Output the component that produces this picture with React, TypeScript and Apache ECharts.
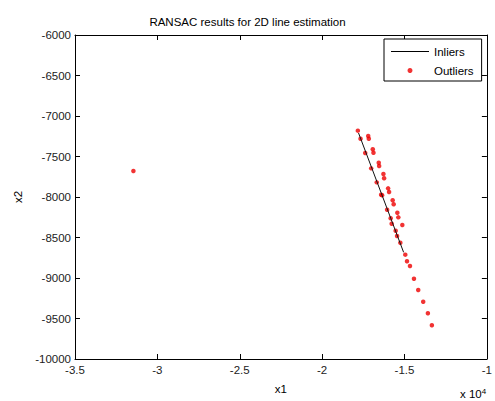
import React, { useEffect, useRef } from "react";
import * as echarts from "echarts";

const titleText = "RANSAC results for 2D line estimation";
const xTickValues = [-35000, -30000, -25000, -20000, -15000, -10000];
const yTickValues = [-10000, -9500, -9000, -8500, -8000, -7500, -7000, -6500, -6000];

// Inlier fitted line (two end points)
const inlierX = [-17790, -15054];
const inlierY = [-7210, -8683];

// Outlier points
const outlierX = [
  -17832, -17669, -17204, -17168, -17385, -16926, -16884, -16564, -16540, -17023,
  -16280, -16238, -16685, -15996, -15936, -16420, -16360, -15718, -15658, -16057,
  -15435, -15375, -15840, -15779, -15133, -15537, -15453, -15254, -14952, -14849,
  -14668, -14426, -14167, -13865, -13581, -13339, -31455,
];
const outlierY = [
  -7181, -7280, -7247, -7280, -7457, -7411, -7453, -7577, -7617, -7646,
  -7716, -7769, -7819, -7893, -7938, -7972, -7979, -8041, -8090, -8157,
  -8194, -8251, -8263, -8330, -8346, -8416, -8481, -8564, -8712, -8794,
  -8852, -9009, -9148, -9293, -9436, -9584, -7679,
];

const FONT = "'Liberation Sans', Arial, sans-serif";
const RED = "#ee0000";

export default function App() {
  const ref = useRef<HTMLDivElement>(null);
  useEffect(() => {
    if (!ref.current) return;
    const chart = echarts.init(ref.current, undefined, { renderer: "svg" });
    const axisCommon = {
      type: "value" as const,
      splitLine: { show: false },
      axisLine: { show: true, onZero: false, lineStyle: { color: "#000", width: 1 } },
      axisTick: { show: true, inside: true, length: 5, lineStyle: { color: "#000" } },
    };
    chart.setOption({
      animation: false,
      backgroundColor: "#fff",
      textStyle: { fontFamily: FONT },
      title: {
        text: titleText,
        left: "center",
        top: 11,
        textStyle: { fontFamily: FONT, fontSize: 11.5, fontWeight: "normal", color: "#000" },
      },
      grid: { left: 75, right: 6, top: 35, bottom: 42, containLabel: false },
      legend: {
        orient: "vertical",
        left: 384,
        top: 39,
        width: 99,
        padding: [6, 8, 4, 7],
        itemGap: 6,
        itemWidth: 38,
        itemHeight: 5,
        symbolKeepAspect: true,
        backgroundColor: "#fff",
        borderColor: "#000",
        borderWidth: 1,
        textStyle: { fontFamily: FONT, fontSize: 11.5, color: "#000", lineHeight: 13 },
        data: [
          { name: "Inliers", icon: "path://M0,0H38V1H0Z", itemStyle: { color: "#000", borderWidth: 0 } },
          { name: "Outliers", icon: "circle", itemStyle: { color: RED, borderWidth: 0 } },
        ],
      },
      xAxis: [
        {
          ...axisCommon,
          position: "bottom",
          min: xTickValues[0],
          max: xTickValues[xTickValues.length - 1],
          interval: 5000,
          name: "x1",
          nameLocation: "middle",
          nameGap: 24,
          nameTextStyle: { fontFamily: FONT, fontSize: 11.5, color: "#000" },
          axisLabel: {
            fontFamily: FONT,
            fontSize: 11.5,
            color: "#222",
            margin: 5,
            formatter: (v: number) => String(v / 10000),
          },
        },
        {
          ...axisCommon,
          position: "top",
          min: xTickValues[0],
          max: xTickValues[xTickValues.length - 1],
          interval: 5000,
          axisLabel: { show: false },
        },
      ],
      yAxis: [
        {
          ...axisCommon,
          position: "left",
          min: yTickValues[0],
          max: yTickValues[yTickValues.length - 1],
          interval: 500,
          name: "x2",
          nameLocation: "middle",
          nameGap: 44,
          nameTextStyle: { fontFamily: FONT, fontSize: 11.5, color: "#000" },
          axisLabel: {
            fontFamily: FONT,
            fontSize: 11.5,
            color: "#222",
            margin: 4,
            formatter: (v: number) => String(v),
          },
        },
        {
          ...axisCommon,
          position: "right",
          min: yTickValues[0],
          max: yTickValues[yTickValues.length - 1],
          interval: 500,
          axisLabel: { show: false },
        },
      ],
      graphic: [
        {
          type: "text",
          left: 460,
          top: 387,
          style: {
            text: "x 10{s|4}",
            fontFamily: FONT,
            fontSize: 11.5,
            fill: "#000",
            rich: { s: { fontSize: 8, fontFamily: FONT, fill: "#000", verticalAlign: "top", padding: [0, 0, 6, 0] } },
          },
        },
      ],
      series: [
        {
          name: "Inliers",
          type: "line",
          xAxisIndex: 0,
          yAxisIndex: 0,
          symbol: "none",
          lineStyle: { color: "#111", width: 1 },
          itemStyle: { color: "#000" },
          data: inlierX.map((x, i) => [x, inlierY[i]]),
        },
        {
          name: "Outliers",
          type: "scatter",
          xAxisIndex: 0,
          yAxisIndex: 0,
          symbol: "circle",
          symbolSize: 4.5,
          itemStyle: { color: RED },
          data: outlierX.map((x, i) => [x, outlierY[i]]),
        },
      ],
    });
    return () => chart.dispose();
  }, []);
  return <div ref={ref} style={{ width: 495, height: 401, position: "absolute", left: 0, top: 0 }} />;
}
